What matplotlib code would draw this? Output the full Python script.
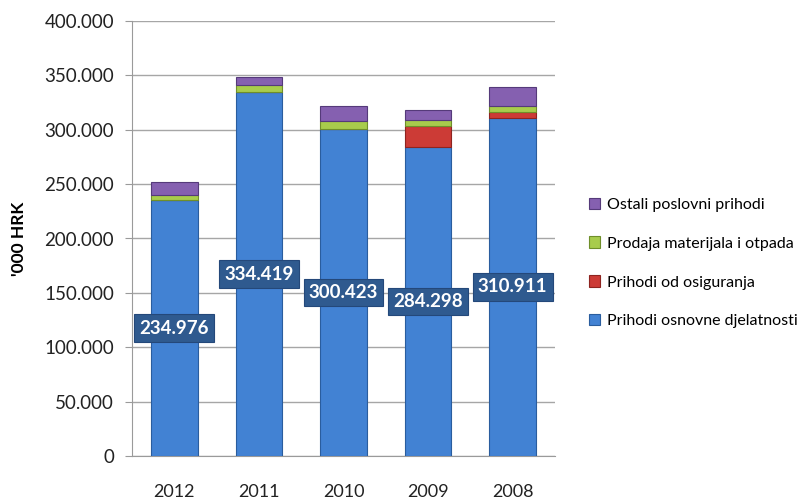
import matplotlib
matplotlib.use("Agg")
import matplotlib.pyplot as plt
import numpy as np

years = ["2012", "2011", "2010", "2009", "2008"]
osnovne = [234.976, 334.419, 300.423, 284.298, 310.911]
osiguranje = [0.8, 0.5, 0.6, 19.0, 5.7]
materijal = [4.3, 6.0, 6.6, 5.4, 5.0]
ostali = [11.5, 7.3, 14.4, 9.6, 17.4]
ticks = [0, 50, 100, 150, 200, 250, 300, 350, 400]
tick_labels = ["0", "50.000", "100.000", "150.000", "200.000", "250.000", "300.000", "350.000", "400.000"]
value_labels = ["234.976", "334.419", "300.423", "284.298", "310.911"]

series = [
    ("Prihodi osnovne djelatnosti", osnovne, "#4282d3", "#2a5d9e"),
    ("Prihodi od osiguranja", osiguranje, "#cc3b36", "#8e2420"),
    ("Prodaja materijala i otpada", materijal, "#a8cc4c", "#6f8f2a"),
    ("Ostali poslovni prihodi", ostali, "#8560b0", "#553a7a"),
]

plt.rcParams['font.family'] = ['Lato', 'DejaVu Sans']
fig = plt.figure(figsize=(8.07, 5.0), dpi=100)
ax = fig.add_axes([0.1636, 0.088, 0.524, 0.870])

x = np.arange(len(years))
bottom = np.zeros(len(years))
handles = []
for name, vals, col, edge in series:
    v = np.array(vals)
    b = ax.bar(x, v, 0.55, bottom=bottom, color=col, edgecolor=edge, linewidth=0.8, label=name, zorder=3)
    handles.append(b)
    bottom += v

for i, lab in enumerate(value_labels):
    ax.text(x[i], osnovne[i] / 2, lab, ha="center", va="center", color="white",
            fontsize=13.5, fontweight="bold", zorder=5,
            bbox=dict(boxstyle="square,pad=0.28", facecolor="#2f5a8f", edgecolor="#24487a", linewidth=0.8))

ax.set_xlim(-0.5, len(years) - 0.5)
ax.set_ylim(0, 400)
ax.set_yticks(ticks)
ax.set_yticklabels(tick_labels, fontsize=13.5, color="#222222")
ax.set_xticks(x)
ax.set_xticklabels(years, fontsize=13, color="#222222")
ax.tick_params(axis="x", length=0, pad=20)
ax.tick_params(axis="y", length=5, color="#9a9a9a", pad=8)
ax.yaxis.grid(True, color="#a6a6a6", linewidth=1.0, zorder=0)
ax.set_axisbelow(True)
for s in ["top", "right"]:
    ax.spines[s].set_visible(False)
ax.spines["left"].set_color("#9a9a9a")
ax.spines["bottom"].set_color("#9a9a9a")
ax.set_ylabel("'000 HRK", fontsize=12.5, fontweight="bold", labelpad=12)

leg = fig.legend(handles[::-1], [s[0] for s in series][::-1], loc="center left",
                 bbox_to_anchor=(0.712, 0.474), frameon=False, fontsize=11.5,
                 handlelength=0.7, handleheight=0.7, handletextpad=0.4, labelspacing=1.55)

fig.savefig("out.png", dpi=100)
